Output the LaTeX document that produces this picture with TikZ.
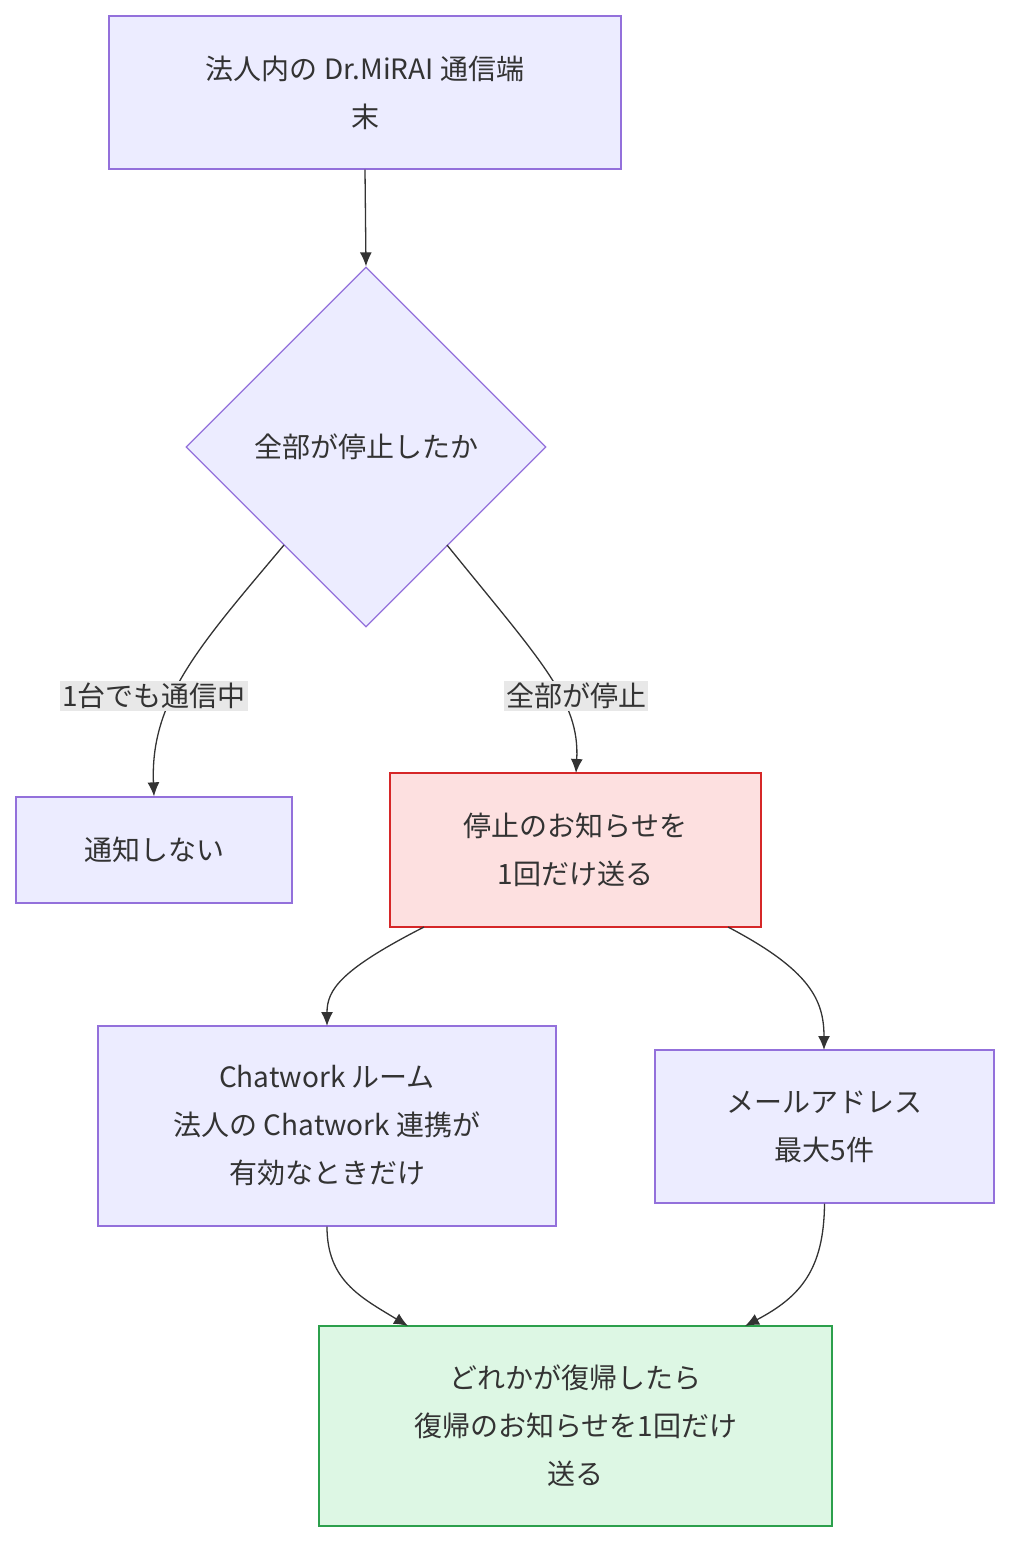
\documentclass[tikz,border=0pt]{standalone}
\usepackage{fontspec}
\setmainfont{Noto Sans CJK JP}
\usetikzlibrary{shapes.geometric,arrows.meta}
\definecolor{nf}{HTML}{ECECFF}\definecolor{ns}{HTML}{9370DB}
\definecolor{rf}{HTML}{FDE0E0}\definecolor{rs}{HTML}{D62728}
\definecolor{gf}{HTML}{DDF7E4}\definecolor{gs}{HTML}{2CA04C}
\definecolor{ec}{HTML}{333333}\definecolor{lb}{HTML}{E8E8E8}
\begin{document}
\begin{tikzpicture}[x=1pt,y=-1pt,
 box/.style={draw=ns,fill=nf,line width=1.3pt,align=center,font=\fontsize{28}{48}\selectfont,text=ec,inner sep=0pt},
 lab/.style={fill=lb,font=\fontsize{28}{34}\selectfont,text=ec,inner sep=2pt},
 e/.style={draw=ec,line width=1.3pt,-{Latex[length=14pt,width=12pt]}}]
\useasboundingbox (0,0) rectangle (1026,1564);
\node[box,minimum width=512pt,minimum height=153pt] (top) at (365,92.5) {法人内の Dr.MiRAI 通信端\\末};
\node[box,diamond,minimum width=360pt,minimum height=360pt] (dia) at (366,447) {全部が停止したか};
\node[box,minimum width=276pt,minimum height=106pt] (no) at (154,850) {通知しない};
\node[box,draw=rs,fill=rf,minimum width=371pt,minimum height=154pt] (stop) at (575.5,850) {停止のお知らせを\\1回だけ送る};
\node[box,minimum width=458pt,minimum height=200pt] (cw) at (327,1126) {Chatwork ルーム\\法人の Chatwork 連携が\\有効なときだけ};
\node[box,minimum width=339pt,minimum height=153pt] (mail) at (824.5,1126.5) {メールアドレス\\最大5件};
\node[box,draw=gs,fill=gf,minimum width=513pt,minimum height=200pt] (fin) at (575.5,1426) {どれかが復帰したら\\復帰のお知らせを1回だけ\\送る};
\coordinate (dl) at (284,545); \coordinate (dr) at (447,545);
\coordinate (sl) at (424,927); \coordinate (sr) at (728,927);
\coordinate (cwt) at (327,1026); \coordinate (mt) at (824,1050);
\coordinate (fl) at (408,1326); \coordinate (fr) at (745,1326);
\coordinate (stt) at (576,773);
\draw[e] (top.south) -- (dia.north);
\draw[e] (dl) .. controls (200,645) and (150,700) .. (no.north);
\draw[e] (dr) .. controls (540,660) and (580,700) .. (stt);
\node[lab] (l1) at (154,696) {1台でも通信中};
\node[lab] (l2) at (576,696) {全部が停止};
\draw[e] (sl) .. controls (340,970) and (327,990) .. (cwt);
\draw[e] (sr) .. controls (810,970) and (824,1000) .. (mt);
\draw[e] (cw.south) .. controls (327,1280) and (360,1297) .. (fl);
\draw[e] (mail.south) .. controls (824,1270) and (800,1297) .. (fr);
\end{tikzpicture}
\end{document}
